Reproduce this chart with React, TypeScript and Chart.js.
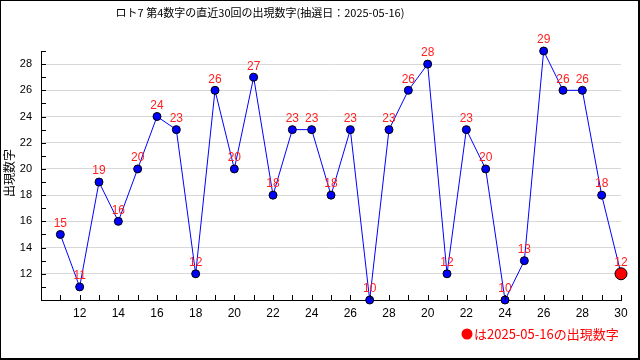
import React, { useEffect, useRef } from "react";
import { Chart, registerables } from "chart.js";

Chart.register(...registerables);

const drawLabels = [
  "11","12","13","14","15","16","17","18","19","20",
  "21","22","23","24","25","26","27","28","29","20",
  "21","22","23","24","25","26","27","28","29","30",
];
const values = [15, 11, 19, 16, 20, 24, 23, 12, 26, 20, 27, 18, 23, 23, 18, 23, 10, 23, 26, 28, 12, 23, 20, 10, 13, 29, 26, 26, 18, 12];
const yTickLabels = [12, 14, 16, 18, 20, 22, 24, 26, 28];
const titleText = "ロト7 第4数字の直近30回の出現数字(抽選日：2025-05-16)";
const yTitle = "出現数字";
const legendText = "は2025-05-16の出現数字";

const JP = '"Noto Sans CJK JP", sans-serif';
const NUM = '"Liberation Sans", "Noto Sans CJK JP", sans-serif';

export default function App() {
  const ref = useRef<HTMLCanvasElement>(null);
  useEffect(() => {
    document.body.style.margin = "0";
    const canvas = ref.current!;
    const n = values.length;
    const pts = values.map((v, i) => ({ x: i + 1, y: v }));
    const extras = {
      id: "extras",
      afterDatasetsDraw(chart: any) {
        const ctx = chart.ctx;
        const meta = chart.getDatasetMeta(0);
        ctx.save();
        ctx.fillStyle = "#ff2020";
        ctx.font = "12px " + NUM;
        ctx.textAlign = "center";
        ctx.textBaseline = "middle";
        meta.data.forEach((el: any, i: number) => {
          ctx.fillText(String(values[i]), el.x, el.y - 11);
        });
        ctx.restore();
      },
      afterDraw(chart: any) {
        const ctx = chart.ctx;
        const xs = chart.scales.x;
        const ys = chart.scales.y;
        const a = chart.chartArea;
        ctx.save();
        ctx.strokeStyle = "#000";
        ctx.lineWidth = 1;
        ctx.beginPath();
        for (let v = 10; v <= 29; v++) {
          const y = Math.round(ys.getPixelForValue(v)) + 0.5;
          ctx.moveTo(a.left, y);
          ctx.lineTo(a.left + 5, y);
        }
        for (let v = 1; v <= 30; v++) {
          const x = Math.round(xs.getPixelForValue(v)) + 0.5;
          ctx.moveTo(x, a.bottom);
          ctx.lineTo(x, a.bottom - 5);
        }
        ctx.stroke();
        // title
        ctx.fillStyle = "#000";
        ctx.font = "11px " + JP;
        ctx.textAlign = "center";
        ctx.textBaseline = "middle";
        ctx.fillText(titleText, 260, 13);
        // y title
        ctx.save();
        ctx.translate(9, 173);
        ctx.rotate(-Math.PI / 2);
        ctx.font = "12px " + JP;
        ctx.fillText(yTitle, 0, 0);
        ctx.restore();
        // legend
        ctx.fillStyle = "#ff0000";
        ctx.beginPath();
        ctx.arc(467, 334, 5.5, 0, Math.PI * 2);
        ctx.fill();
        ctx.font = "13px " + JP;
        ctx.textAlign = "left";
        ctx.fillText(legendText, 474, 334);
        // frame
        ctx.strokeStyle = "#000";
        ctx.lineWidth = 1;
        ctx.strokeRect(0.5, 0.5, 638, 358);
        ctx.beginPath();
        ctx.moveTo(639.5, 0);
        ctx.lineTo(639.5, 360);
        ctx.moveTo(0, 359.5);
        ctx.lineTo(640, 359.5);
        ctx.stroke();
        ctx.restore();
      },
    };
    const chart = new Chart(canvas, {
      type: "line",
      data: {
        datasets: [
          {
            data: pts,
            clip: false,
            borderColor: "#0000ff",
            borderWidth: 1,
            pointBackgroundColor: values.map((_, i) => (i === n - 1 ? "#ff0000" : "#0000ff")),
            pointBorderColor: "#000",
            pointBorderWidth: 1,
            pointRadius: values.map((_, i) => (i === n - 1 ? 6 : 4)),
            tension: 0,
          },
        ],
      },
      options: {
        animation: false,
        responsive: false,
        layout: { padding: { top: 51, right: 19, left: 0, bottom: 0 } },
        plugins: { legend: { display: false }, tooltip: { enabled: false }, title: { display: false } },
        scales: {
          x: {
            type: "linear",
            min: 0,
            max: 30,
            afterFit: (s: any) => { s.height = 60; },
            grid: { display: false, drawTicks: false },
            border: { display: true, color: "#000", width: 1 },
            ticks: {
              stepSize: 1,
              autoSkip: false,
              maxRotation: 0,
              padding: 6,
              color: "#000",
              font: { family: NUM, size: 12 },
              callback: (v: any) => (v >= 2 && v % 2 === 0 ? drawLabels[v - 1] : ""),
            },
          },
          y: {
            min: 10,
            max: 29,
            afterFit: (s: any) => { s.width = 41; },
            grid: {
              drawTicks: false,
              color: (c: any) => (yTickLabels.includes(c.tick?.value) ? "#d8d8d8" : "rgba(0,0,0,0)"),
            },
            border: { display: true, color: "#000", width: 1 },
            ticks: {
              stepSize: 1,
              autoSkip: false,
              padding: 9,
              color: "#000",
              font: { family: NUM, size: 11 },
              callback: (v: any) => (yTickLabels.includes(v) ? String(v) : ""),
            },
          },
        },
      },
      plugins: [extras],
    } as any);
    return () => chart.destroy();
  }, []);
  return <canvas ref={ref} width={640} height={360} style={{ display: "block" }} />;
}
